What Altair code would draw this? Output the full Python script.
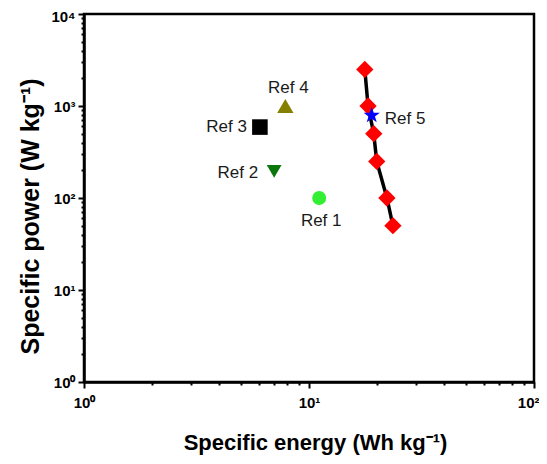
import altair as alt
import pandas as pd

# ---- data ----
ref_names = ["Ref 1", "Ref 2", "Ref 3", "Ref 4", "Ref 5"]
ref_energy = [11.1, 7.0, 6.05, 7.85, 19.0]
ref_power = [100, 195, 590, 1000, 790]

work_energy = [17.7, 18.3, 19.4, 20.0, 22.2, 23.6]
work_power = [2500, 1000, 500, 250, 100, 50]

x_decades = [1, 10, 100]
y_decades = [1, 10, 100, 1000, 10000]

refs = pd.DataFrame({"name": ref_names, "energy": ref_energy, "power": ref_power})
work = pd.DataFrame({"energy": work_energy, "power": work_power, "order": list(range(len(work_energy)))})

x_ticks = [m * d for d in x_decades[:-1] for m in range(1, 10)] + [x_decades[-1]]
y_ticks = [m * d for d in y_decades[:-1] for m in range(1, 10)] + [y_decades[-1]]

FONT = "Liberation Sans"
is_major = "abs(log(datum.value)/LN10 - round(log(datum.value)/LN10)) < 1e-6"
label_expr = (f"{is_major} ? '10' + ['\u2070','\u00b9','\u00b2','\u00b3','\u2074']"
              "[round(log(datum.value)/LN10)] : ''")
tick_cond = {"condition": {"test": is_major, "value": 6}, "value": 3}

x_axis = alt.Axis(values=x_ticks, labelExpr=label_expr, tickSize=tick_cond,
                  grid=False, domainColor="black", domainWidth=2.5, tickColor="black",
                  tickWidth=2, labelFont=FONT, labelFontSize=15, labelFontWeight="bold",
                  labelColor="black", labelFlush=False, labelOverlap=False, labelPadding=7,
                  labelAlign={"condition": {"test": f"datum.value >= {x_decades[-1]}", "value": "right"},
                              "value": "center"},
                  labelOffset={"condition": {"test": f"datum.value >= {x_decades[-1]}", "value": 5},
                               "value": 0},
                  title="Specific energy (Wh kg\u207b\u00b9)", titleFont=FONT, titleFontSize=22,
                  titleFontWeight="bold", titleColor="black", titleX=231, titleY=67,
                  titleBaseline="alphabetic", titleAlign="center")
y_axis = alt.Axis(values=y_ticks, labelExpr=label_expr, tickSize=tick_cond,
                  grid=False, domainColor="black", domainWidth=2.5, tickColor="black",
                  tickWidth=2, labelFont=FONT, labelFontSize=15, labelFontWeight="bold",
                  labelColor="black", labelFlush=False, labelOverlap=False, labelPadding=3,
                  labelOffset={"condition": {"test": f"datum.value >= {y_decades[-1]}", "value": 2},
                               "value": 0},
                  title="Specific power (W kg\u207b\u00b9)", titleFont=FONT, titleFontSize=25,
                  titleFontWeight="bold", titleColor="black", titleX=-46, titleY=202,
                  titleAngle=270, titleBaseline="alphabetic", titleAlign="center")

xs = alt.Scale(type="log", domain=[1, 100], nice=False)
ys = alt.Scale(type="log", domain=[1, 10000], nice=False)

base_x = alt.X("energy:Q", scale=xs, axis=x_axis)
base_y = alt.Y("power:Q", scale=ys, axis=y_axis)

line = alt.Chart(work).mark_line(color="black", strokeWidth=3.5).encode(
    x=base_x, y=base_y, order="order:Q")
diamonds = alt.Chart(work).mark_point(shape="diamond", filled=True, size=300,
                                      color="#ff0000", opacity=1).encode(x=base_x, y=base_y)

star = ("M0,-1 L0.235,-0.324 L0.951,-0.309 L0.380,0.124 L0.588,0.809 L0,0.4 "
        "L-0.588,0.809 L-0.380,0.124 L-0.951,-0.309 L-0.235,-0.324 Z")
points = alt.Chart(refs).mark_point(filled=True, opacity=1).encode(
    x=base_x, y=base_y,
    color=alt.Color("name:N", scale=alt.Scale(domain=ref_names,
                    range=["#33ee33", "#0b760b", "#000000", "#858000", "#0000ff"]), legend=None),
    shape=alt.Shape("name:N", scale=alt.Scale(domain=ref_names,
                    range=["circle", "triangle-down", "square", "triangle-up", star]), legend=None),
    size=alt.Size("name:O", scale=alt.Scale(domain=ref_names,
                  range=[196, 290, 160, 290, 190]), legend=None),
)

label_style = {
    "Ref 1": dict(align="center", dx=2, dy=28),
    "Ref 2": dict(align="right", dx=-16, dy=7),
    "Ref 3": dict(align="right", dx=-13, dy=5),
    "Ref 4": dict(align="center", dx=3, dy=-13),
    "Ref 5": dict(align="left", dx=13, dy=9),
}
labels = []
for nm in ref_names:
    labels.append(
        alt.Chart(refs).transform_filter(alt.datum.name == nm).mark_text(
            baseline="alphabetic", font=FONT, fontSize=17, color="#1a1a1a",
            **label_style[nm]).encode(x=base_x, y=base_y, text="name:N"))

chart = alt.layer(line, diamonds, points, *labels).properties(
    width=450, height=368,
    autosize=alt.AutoSizeParams(type="none"),
    padding={"left": 76, "top": 6, "right": 5, "bottom": 74},
).configure_view(stroke="black", strokeWidth=2.5)

chart.save("out.html", embed_options={"renderer": "svg", "actions": False})
